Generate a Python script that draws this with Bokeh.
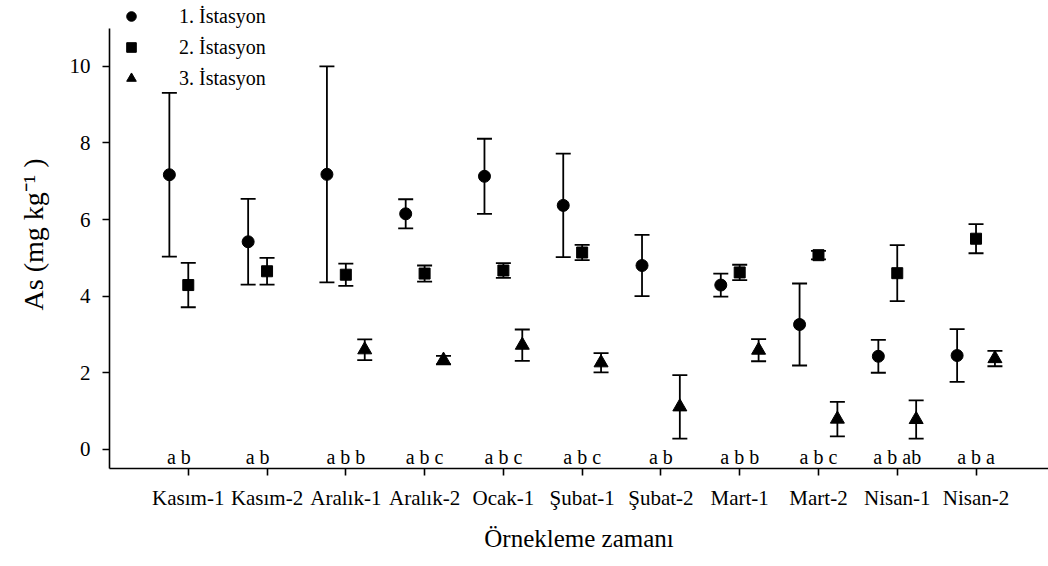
import math
from bokeh.plotting import figure
from bokeh.models import (ColumnDataSource, Whisker, TeeHead, Legend, LegendItem,
                          FixedTicker, Range1d)
from bokeh.core.properties import value
from bokeh.embed import file_html
from bokeh.resources import INLINE

NaN = float("nan")

categories = ["Kasım-1", "Kasım-2", "Aralık-1", "Aralık-2", "Ocak-1", "Şubat-1",
              "Şubat-2", "Mart-1", "Mart-2", "Nisan-1", "Nisan-2"]
st1_mean = [7.17, 5.42, 7.18, 6.15, 7.13, 6.37, 4.80, 4.29, 3.26, 2.43, 2.45]
st1_err = [2.14, 1.12, 2.82, 0.38, 0.98, 1.35, 0.80, 0.30, 1.07, 0.43, 0.69]
st2_mean = [4.29, 4.65, 4.56, 4.59, 4.67, 5.14, NaN, 4.62, 5.07, 4.60, 5.50]
st2_err = [0.58, 0.35, 0.29, 0.21, 0.19, 0.20, NaN, 0.20, 0.11, 0.73, 0.38]
st3_mean = [NaN, NaN, 2.60, 2.33, 2.72, 2.26, 1.11, 2.59, 0.79, 0.78, 2.37]
st3_err = [NaN, NaN, 0.27, 0.11, 0.41, 0.25, 0.83, 0.29, 0.45, 0.50, 0.20]
letters = ["a b", "a b", "a b b", "a b c", "a b c", "a b c", "a b", "a b b",
           "a b c", "a b ab", "a b a"]
station_names = ["1. İstasyon", "2. İstasyon", "3. İstasyon"]

FONT = "Liberation Serif"
offsets = [-0.24, 0.0, 0.24]
markers = ["circle", "square", "triangle"]
msizes = [12, 11, 14]

p = figure(width=1048, height=566, output_backend="svg", toolbar_location=None,
           x_range=Range1d(0, 11.92), y_range=Range1d(-0.5, 11.72))
p.min_border_left = 109
p.min_border_right = 0
p.min_border_top = 0
p.min_border_bottom = 98
p.outline_line_color = None
p.xgrid.visible = False
p.ygrid.visible = False
p.background_fill_color = "white"
p.border_fill_color = "white"

series = [(st1_mean, st1_err), (st2_mean, st2_err), (st3_mean, st3_err)]
renderers = []
for k, (means, errs) in enumerate(series):
    xs, ys, up, lo = [], [], [], []
    for i, (m, e) in enumerate(zip(means, errs)):
        if not math.isnan(m):
            xs.append(i + 1 + offsets[k])
            ys.append(m)
            up.append(m + e)
            lo.append(m - e)
    src = ColumnDataSource(dict(x=xs, y=ys, upper=up, lower=lo))
    w = Whisker(base="x", upper="upper", lower="lower", source=src,
                line_width=1.8, line_color="black",
                upper_head=TeeHead(size=15, line_width=1.8, line_color="black"),
                lower_head=TeeHead(size=15, line_width=1.8, line_color="black"))
    p.add_layout(w)
    r = p.scatter("x", "y", source=src, marker=markers[k], size=msizes[k],
                  fill_color="black", line_color="black")
    renderers.append(r)

# significance letters centred under the stations present at each time
lx = []
for i in range(len(categories)):
    present = [offsets[k] for k, (m, _) in enumerate(series) if not math.isnan(m[i])]
    lx.append(i + 1 + sum(present) / len(present))
p.text(x=lx, y=[-0.19] * len(lx), text=letters, text_align="center",
       text_baseline="middle", text_font=value(FONT),
       text_font_size=value("20px"), text_color="black")

legend = Legend(items=[LegendItem(label=station_names[k], renderers=[renderers[k]])
                       for k in range(3)],
                location=(10, 378), orientation="vertical",
                glyph_width=24, glyph_height=24, spacing=7, label_standoff=36,
                padding=0, margin=0, border_line_color=None,
                background_fill_alpha=0, label_text_font=FONT,
                label_text_font_size="20px", label_text_color="black")
p.add_layout(legend)

# axes
p.xaxis.ticker = FixedTicker(ticks=list(range(1, len(categories) + 1)))
p.xaxis.major_label_overrides = {i + 1: c for i, c in enumerate(categories)}
p.yaxis.ticker = FixedTicker(ticks=[0, 2, 4, 6, 8, 10])
p.yaxis.bounds = (-0.5, 11)
p.xaxis.bounds = (0, 11.92)
for ax in (p.xaxis, p.yaxis):
    ax.axis_line_width = 1.6
    ax.axis_line_color = "black"
    ax.major_tick_line_width = 1.6
    ax.major_tick_line_color = "black"
    ax.major_tick_out = 7
    ax.major_tick_in = 0
    ax.minor_tick_line_color = None
    ax.major_label_text_font = FONT
    ax.major_label_text_color = "black"
    ax.axis_label_text_font = FONT
    ax.axis_label_text_font_style = "normal"
    ax.axis_label_text_color = "black"
p.xaxis.major_label_text_font_size = "21px"
p.yaxis.major_label_text_font_size = "21px"
p.xaxis.major_label_standoff = 10
p.yaxis.major_label_standoff = 12
p.xaxis.axis_label = "Örnekleme zamanı"
p.yaxis.axis_label = "As (mg kg⁻¹ )"
p.xaxis.axis_label_text_font_size = "25px"
p.yaxis.axis_label_text_font_size = "28px"
p.xaxis.axis_label_standoff = 12
p.yaxis.axis_label_standoff = 18

open("out.html", "w").write(file_html(p, INLINE))
